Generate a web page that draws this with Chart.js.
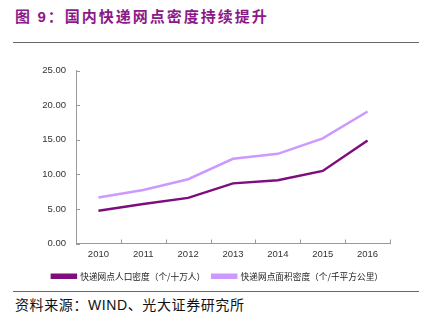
<!DOCTYPE html>
<html>
<head>
<meta charset="utf-8">
<script src="https://cdn.jsdelivr.net/npm/chart.js@4.4.1/dist/chart.umd.min.js"></script>
<style>
    body { margin: 0; background: #fff; width: 430px; height: 329px; position: relative; overflow: hidden; }
    .title {
        position: absolute; left: 15px; top: 5px;
        font-family: "Noto Sans CJK SC", sans-serif; font-weight: bold;
        font-size: 15px; color: #8b1a89; letter-spacing: 2px;
    }
    .title .num { font-family: "Liberation Sans", Arial, sans-serif; }
    .rule { position: absolute; left: 13px; width: 406px; height: 1px; background: #666; }
    .source {
        position: absolute; left: 15px; top: 294px;
        font-family: "Noto Sans CJK SC", sans-serif; font-size: 14px; color: #111;
        letter-spacing: 0.6px;
    }
    .source .en { font-family: "Liberation Sans", Arial, sans-serif; }
    #box { position: absolute; left: 0; top: 55px; width: 430px; height: 234px; }
</style>
</head>
<body>
<div class="title">图 <span class="num">9</span>：国内快递网点密度持续提升</div>
<div class="rule" style="top:42px"></div>
<div id="box"><canvas id="chart"></canvas></div>
<div class="rule" style="top:291px"></div>
<div class="source">资料来源：<span class="en">WIND</span>、光大证券研究所</div>

<script>
// ==============================
// DATA
// ==============================
const years = ["2010", "2011", "2012", "2013", "2014", "2015", "2016"];
const popDensity = [4.74, 5.7, 6.6, 8.7, 9.15, 10.5, 14.9];     // 个/十万人
const areaDensity = [6.65, 7.75, 9.3, 12.25, 12.97, 15.2, 19.1]; // 个/千平方公里
const seriesNames = ["快递网点人口密度（个/十万人）", "快递网点面积密度（个/千平方公里）"];
const yTicks = { min: 0, max: 25, step: 5 };

// ==============================
// INWARD TICK MARKS
// ==============================
const innerTicks = {
    id: "innerTicks",
    afterDraw(chart) {
        const ctx = chart.ctx;
        const x = chart.scales.x;
        const y = chart.scales.y;
        ctx.save();
        ctx.strokeStyle = "#999";
        ctx.lineWidth = 1;
        ctx.beginPath();
        // category boundaries on the x axis
        const n = years.length;
        for (let i = 0; i <= n; i++) {
            const px = Math.round(x.left + i * x.width / n) + 0.5;
            ctx.moveTo(px, y.bottom);
            ctx.lineTo(px, y.bottom - 4);
        }
        // value ticks on the y axis
        y.ticks.forEach(t => {
            const py = Math.round(y.getPixelForValue(t.value)) + 0.5;
            ctx.moveTo(x.left, py);
            ctx.lineTo(x.left + 4, py);
        });
        ctx.stroke();
        ctx.restore();
    }
};

// ==============================
// CHART
// ==============================
Chart.defaults.font.family = '"Liberation Sans", Arial, sans-serif';
Chart.defaults.color = "#333";

new Chart(document.getElementById("chart"), {
    type: "line",
    data: {
        labels: years,
        datasets: [
            {
                label: seriesNames[0],
                data: popDensity,
                borderColor: "#7e0d7e",
                backgroundColor: "#7e0d7e",
                borderWidth: 2.5,
                pointRadius: 0,
                tension: 0
            },
            {
                label: seriesNames[1],
                data: areaDensity,
                borderColor: "#cc99ff",
                backgroundColor: "#cc99ff",
                borderWidth: 2.5,
                pointRadius: 0,
                tension: 0
            }
        ]
    },
    options: {
        responsive: true,
        maintainAspectRatio: false,
        animation: false,
        layout: { padding: { top: 7, right: 40, left: 0, bottom: 0 } },
        plugins: {
            tooltip: { enabled: false },
            legend: {
                position: "bottom",
                align: "end",
                maxHeight: 24, // tight box so the row sits just under the years
                labels: {
                    boxWidth: 24,
                    boxHeight: 3,
                    padding: 7,
                    color: "#222",
                    font: { family: '"Noto Sans CJK SC", sans-serif', size: 8.7 }
                }
            }
        },
        scales: {
            x: {
                offset: true,
                grid: { display: false, drawTicks: false },
                border: { color: "#999" },
                ticks: { padding: 6, font: { size: 9.5, lineHeight: 1.0 }, color: "#333" }
            },
            y: {
                min: yTicks.min,
                max: yTicks.max,
                afterFit(scale) { scale.width = 76; },
                grid: { display: false, drawTicks: false },
                border: { color: "#999" },
                ticks: {
                    stepSize: yTicks.step,
                    padding: 10,
                    font: { size: 9.5 },
                    color: "#333",
                    callback: v => v.toFixed(2)
                }
            }
        }
    },
    plugins: [innerTicks]
});
</script>
</body>
</html>
